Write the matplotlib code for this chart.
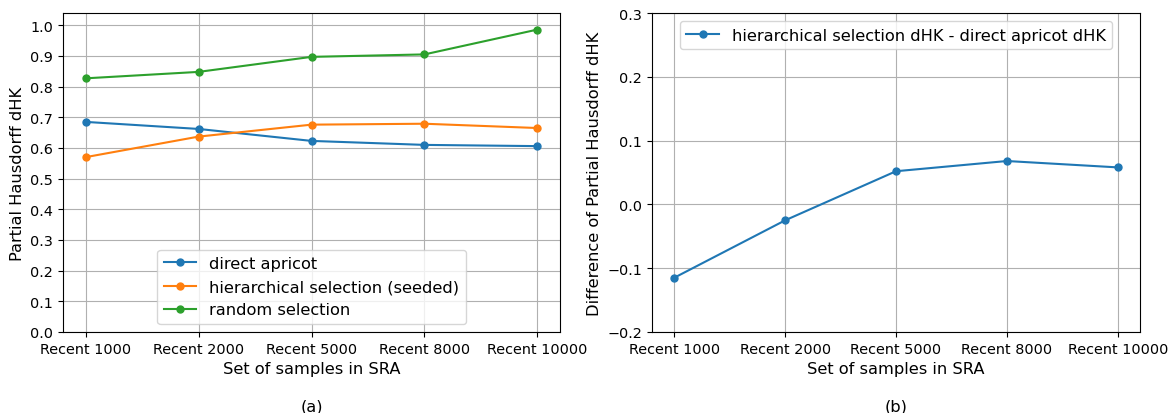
import matplotlib
matplotlib.use("Agg")
import matplotlib.pyplot as plt

categories = ["Recent 1000", "Recent 2000", "Recent 5000", "Recent 8000", "Recent 10000"]
direct_apricot = [0.685, 0.662, 0.623, 0.610, 0.606]
hierarchical_seeded = [0.570, 0.637, 0.676, 0.679, 0.665]
random_selection = [0.827, 0.848, 0.897, 0.905, 0.986]
difference = [-0.115, -0.025, 0.052, 0.068, 0.058]

plt.rcParams['font.family'] = ['DejaVu Sans']
tfs = 10.4
lfs = 11.7

fig = plt.figure(figsize=(11.73, 4.14), dpi=100)
ax1 = fig.add_axes([63/1173, 1-333/414, (560-63)/1173, (333-14)/414])
ax2 = fig.add_axes([652/1173, 1-333/414, (1140-652)/1173, (333-14)/414])

x = list(range(len(categories)))
ax1.plot(x, direct_apricot, marker='o', markersize=5, color='#1f77b4', label='direct apricot')
ax1.plot(x, hierarchical_seeded, marker='o', markersize=5, color='#ff7f0e', label='hierarchical selection (seeded)')
ax1.plot(x, random_selection, marker='o', markersize=5, color='#2ca02c', label='random selection')
ax1.set_ylim(0, 1.04)
ax1.set_yticks([i/10 for i in range(11)])
ax1.set_xticks(x)
ax1.set_xticklabels(categories, fontsize=tfs)
ax1.tick_params(axis='y', labelsize=tfs)
ax1.grid(True)
ax1.set_xlabel('Set of samples in SRA', fontsize=lfs)
ax1.set_ylabel('Partial Hausdorff dHK', fontsize=lfs)
ax1.legend(loc='lower center', fontsize=lfs)

ax2.plot(x, difference, marker='o', markersize=5, color='#1f77b4', label='hierarchical selection dHK - direct apricot dHK')
ax2.set_ylim(-0.2, 0.3)
ax2.set_yticks([-0.2, -0.1, 0.0, 0.1, 0.2, 0.3])
ax2.set_xticks(x)
ax2.set_xticklabels(categories, fontsize=tfs)
ax2.tick_params(axis='y', labelsize=tfs)
ax2.grid(True)
ax2.set_xlabel('Set of samples in SRA', fontsize=lfs)
ax2.set_ylabel('Difference of Partial Hausdorff dHK', fontsize=lfs)
ax2.legend(loc='upper center', fontsize=lfs)

fig.text((63+560)/2/1173, 1-407/414, '(a)', ha='center', va='center', fontsize=lfs)
fig.text((652+1140)/2/1173, 1-407/414, '(b)', ha='center', va='center', fontsize=lfs)

fig.savefig('out.png', dpi=100)
